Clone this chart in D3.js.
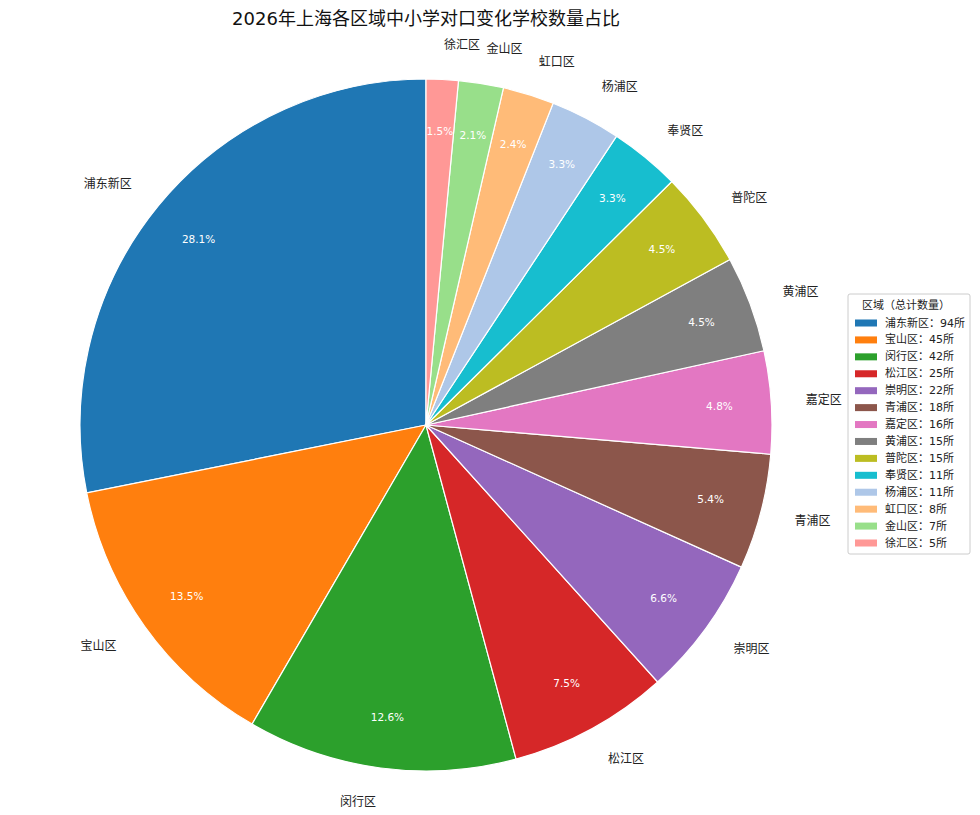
<!DOCTYPE html>
<html><head><meta charset="utf-8">
<script src="https://cdn.jsdelivr.net/npm/d3@7"></script>
<style>
body{margin:0;background:#fff;}
text{font-family:"DejaVu Sans","Noto Sans CJK SC",sans-serif;}
</style></head>
<body><svg id="c" width="980" height="815"></svg>
<script>
const titleText = "2026年上海各区域中小学对口变化学校数量占比";
const districts = ["浦东新区","宝山区","闵行区","松江区","崇明区","青浦区","嘉定区","黄浦区","普陀区","奉贤区","杨浦区","虹口区","金山区","徐汇区"];
const counts = [94,45,42,25,22,18,16,15,15,11,11,8,7,5];
const colors = ["#1f77b4","#ff7f0e","#2ca02c","#d62728","#9467bd","#8c564b","#e377c2","#7f7f7f","#bcbd22","#17becf","#aec7e8","#ffbb78","#98df8a","#ff9896"];
const legendTitle = "区域（总计数量）";

const svg = d3.select("#c");
const cx = 426, cy = 425, R = 346;
const total = d3.sum(counts);
const data = districts.map((d,i)=>({name:d,value:counts[i],color:colors[i]}));

const pie = d3.pie().value(d=>d.value).sort(null).startAngle(0).endAngle(-2*Math.PI);
const arcs = pie(data);
const arc = d3.arc().innerRadius(0).outerRadius(R);
const g = svg.append("g").attr("transform",`translate(${cx},${cy})`);

g.selectAll("path.s").data(arcs).join("path").attr("class","s")
  .attr("d",arc).attr("fill",d=>d.data.color)
  .attr("stroke","#fff").attr("stroke-width",1.2);

function pos(d,f){
  const a=(d.startAngle+d.endAngle)/2;
  return [Math.sin(a)*R*f, -Math.cos(a)*R*f];
}
g.selectAll("text.p").data(arcs).join("text").attr("class","p")
  .attr("x",d=>pos(d,0.85)[0]).attr("y",d=>pos(d,0.85)[1])
  .attr("text-anchor","middle").attr("dominant-baseline","central")
  .attr("fill","#fff").attr("font-size",10.5)
  .text(d=>(d.data.value/total*100).toFixed(1)+"%");

g.selectAll("text.l").data(arcs).join("text").attr("class","l")
  .attr("x",d=>pos(d,1.1)[0]).attr("y",d=>pos(d,1.1)[1])
  .attr("text-anchor",d=>pos(d,1.1)[0]>0?"start":"end")
  .attr("dominant-baseline","central")
  .attr("fill","#222").attr("font-size",12)
  .text(d=>d.data.name);

svg.append("text").attr("x",426).attr("y",18).attr("text-anchor","middle")
  .attr("dominant-baseline","central").attr("font-size",18).attr("fill","#111")
  .text(titleText);

const lg = svg.append("g").attr("transform","translate(848,294)");
lg.append("rect").attr("x",0).attr("y",0).attr("width",122).attr("height",260)
  .attr("fill","#fff").attr("stroke","#ccc").attr("rx",2);
lg.append("text").attr("x",58).attr("y",11).attr("text-anchor","middle")
  .attr("dominant-baseline","central").attr("font-size",11).attr("fill","#222").text(legendTitle);
const ly = d3.scaleLinear().domain([0,data.length-1]).range([29,249]);
data.forEach((d,i)=>{
  lg.append("rect").attr("x",7).attr("y",ly(i)-3.5).attr("width",22).attr("height",7).attr("fill",d.color);
  lg.append("text").attr("x",37).attr("y",ly(i)).attr("dominant-baseline","central")
    .attr("font-size",11).attr("fill","#222").text(`${d.name}：${d.value}所`);
});
</script></body></html>
